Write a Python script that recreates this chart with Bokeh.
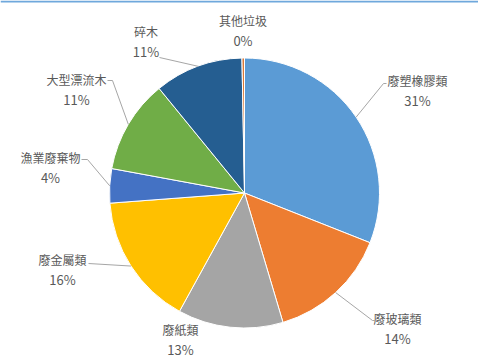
import math
from bokeh.plotting import figure
from bokeh.models import Range1d, Span, ColumnDataSource
from bokeh.core.properties import value
from bokeh.embed import file_html
from bokeh.resources import INLINE

# ---- data ----
categories = ["廢塑橡膠類", "廢玻璃類", "廢紙類", "廢金屬類", "漁業廢棄物", "大型漂流木", "碎木", "其他垃圾"]
shares = [31.0, 14.4, 12.6, 15.8, 4.1, 11.2, 10.6, 0.3]
colors = ["#5B9BD5", "#ED7D31", "#A5A5A5", "#FFC000", "#4472C4", "#70AD47", "#255E91", "#D9793A"]

# ---- layout (pixel positions, y measured from top) ----
W, H = 478, 360
CX, CY, R = 244, 192.5, 135
label_pos = [(417, 80), (397, 318), (180, 329), (62, 259), (50, 157), (76, 79), (145.5, 31), (242.5, 20)]
leader_pts = [
    [(383, 83), (386, 83)],
    [(372, 320), (374, 320)],
    None,
    [(88, 263)],
    [(87, 159), (81, 159)],
    [(112, 80), (107, 80)],
    [(159, 57)],
    None,
]
LINE_GAP = 20

def Y(ypx):
    return H - ypx

p = figure(width=W, height=H, x_range=Range1d(0, W), y_range=Range1d(0, H),
           output_backend="svg", toolbar_location=None, min_border=0)
p.axis.visible = False
p.grid.visible = False
p.outline_line_color = None
p.background_fill_color = "white"
p.border_fill_color = "white"

total = sum(shares)
starts, ends, mids = [], [], []
cum = 0.0
for s in shares:
    t1 = cum / total * 2 * math.pi
    cum += s
    t2 = cum / total * 2 * math.pi
    # clockwise from 12 o'clock -> math angles
    starts.append(math.pi / 2 - t2)
    ends.append(math.pi / 2 - t1)
    mids.append((t1 + t2) / 2)

src = ColumnDataSource(dict(start=starts, end=ends, color=colors, cat=categories))
p.wedge(x=CX, y=Y(CY), radius=R, start_angle="start", end_angle="end",
        fill_color="color", line_color="white", line_width=1, source=src)

# leader lines
for m, pts in zip(mids, leader_pts):
    if not pts:
        continue
    ex = CX + R * math.sin(m)
    ey = CY - R * math.cos(m)
    xs = [ex] + [q[0] for q in pts]
    ys = [Y(ey)] + [Y(q[1]) for q in pts]
    p.line(xs, ys, line_color="#A6A6A6", line_width=1)

# labels
names_x = [lp[0] for lp in label_pos]
names_y = [Y(lp[1]) for lp in label_pos]
pct_y = [Y(lp[1] + LINE_GAP) for lp in label_pos]
pct_txt = [f"{int(s / total * 100 + 0.5)}%" for s in shares]

p.text(x=names_x, y=names_y, text=categories, text_align="center", text_baseline="middle",
       text_font=value("Noto Sans CJK TC"), text_font_size="12px", text_color="#595959")
p.text(x=names_x, y=pct_y, text=pct_txt, text_align="center", text_baseline="middle",
       text_font=value("Noto Sans CJK TC"), text_font_size="13px", text_color="#595959")

# top border line
p.add_layout(Span(location=H - 1, dimension="width", line_color="#6FA8DC", line_width=2))

open("out.html", "w").write(file_html(p, INLINE))
